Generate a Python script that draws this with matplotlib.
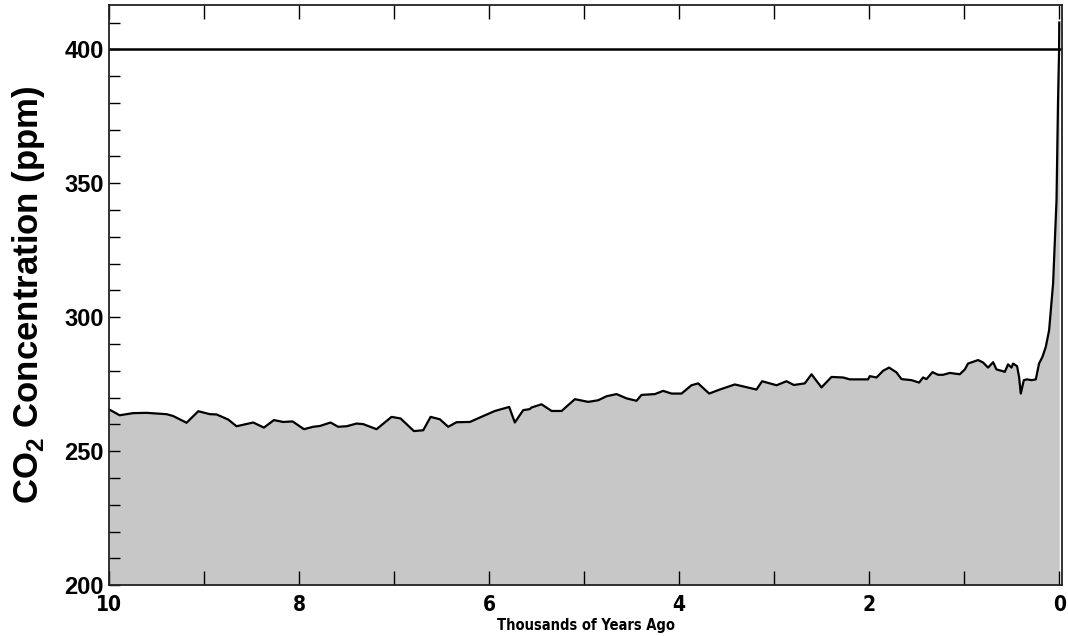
import matplotlib as mpl
mpl.use("Agg")
import matplotlib.pyplot as plt
from matplotlib import font_manager
from matplotlib.ticker import MultipleLocator

# thousands of years ago, CO2 ppm
kyr = [10.0, 9.887, 9.745, 9.603, 9.393, 9.323, 9.183, 9.060, 8.937, 8.867,
       8.745, 8.657, 8.482, 8.369, 8.264, 8.166, 8.067, 7.948, 7.851, 7.780,
       7.668, 7.588, 7.499, 7.394, 7.325, 7.184, 7.026, 6.931, 6.791, 6.693,
       6.615, 6.518, 6.430, 6.342, 6.202, 6.062, 5.939, 5.788, 5.729, 5.641,
       5.571, 5.553, 5.448, 5.342, 5.237, 5.097, 4.957, 4.852, 4.764, 4.659,
       4.553, 4.448, 4.396, 4.256, 4.168, 4.080, 3.975, 3.870, 3.800, 3.684,
       3.572, 3.414, 3.186, 3.127, 2.975, 2.870, 2.793, 2.678, 2.607, 2.502,
       2.397, 2.275, 2.204, 2.012, 1.994, 1.923, 1.854, 1.791, 1.713, 1.660,
       1.555, 1.475, 1.433, 1.397, 1.334, 1.275, 1.223, 1.152, 1.047, 0.994,
       0.960, 0.854, 0.802, 0.749, 0.696, 0.661, 0.608, 0.573, 0.539, 0.503,
       0.486, 0.444, 0.423, 0.405, 0.373, 0.339, 0.292, 0.247, 0.213, 0.177,
       0.142, 0.107, 0.065, 0.029, 0.013, 0.002, 0.0]
co2 = [265.6, 263.4, 264.2, 264.3, 263.8, 263.1, 260.6, 264.9, 263.8, 263.7,
       261.8, 259.3, 260.7, 258.8, 261.6, 260.9, 261.1, 258.2, 259.1, 259.4,
       260.7, 259.1, 259.3, 260.3, 260.1, 258.2, 262.8, 262.2, 257.5, 257.8,
       262.8, 261.9, 259.1, 260.8, 260.9, 263.1, 265.0, 266.5, 260.7, 265.3,
       265.7, 266.3, 267.5, 265.0, 265.0, 269.4, 268.4, 269.0, 270.5, 271.3,
       269.7, 268.8, 271.0, 271.3, 272.5, 271.5, 271.5, 274.6, 275.3, 271.5,
       273.0, 274.9, 273.0, 276.1, 274.6, 276.1, 274.7, 275.3, 278.7, 273.8,
       277.7, 277.5, 276.8, 276.8, 278.0, 277.5, 280.0, 281.2, 279.4, 276.9,
       276.5, 275.6, 277.5, 276.9, 279.5, 278.5, 278.5, 279.2, 278.7, 280.5,
       282.7, 284.0, 283.1, 281.2, 283.2, 280.5, 280.0, 279.6, 282.4, 281.2,
       282.7, 281.7, 277.7, 271.5, 276.5, 276.8, 276.5, 276.8, 282.7, 285.2,
       288.9, 295.1, 312.6, 343.7, 381.0, 399.6, 410.0]

ref_level = 400
yticks = [200, 250, 300, 350, 400]
xticks = [10, 8, 6, 4, 2, 0]

plt.rcParams['font.family'] = ['Liberation Sans', 'DejaVu Sans']
plt.rcParams['mathtext.fontset'] = 'custom'
plt.rcParams['mathtext.bf'] = 'Liberation Sans:bold'
plt.rcParams['mathtext.rm'] = 'Liberation Sans:bold'

# look for a narrow / condensed bold face for the x axis texts
narrow = None
for f in font_manager.fontManager.ttflist:
    nm = (f.name + ' ' + f.fname).lower()
    if ('narrow' in nm or 'condensed' in nm) and f.weight in (700, 'bold'):
        narrow = f.fname
        break

fig = plt.figure(figsize=(10.68, 6.36), dpi=100)
ax = fig.add_axes([0.102, 0.080, 0.8925, 0.912])

ax.fill_between(kyr, 200, co2, color='#c7c7c7', lw=0)
ax.plot(kyr, co2, color='black', lw=1.6)
ax.axhline(ref_level, color='black', lw=1.8)

ax.set_xlim(10, -0.03)
ax.set_ylim(200, 416.5)

ax.set_yticks(yticks)
ax.yaxis.set_minor_locator(MultipleLocator(10))
ax.set_xticks(xticks)
ax.xaxis.set_minor_locator(MultipleLocator(1))

ax.tick_params(axis='y', which='both', direction='in', length=8, width=1,
               left=True, right=False)
ax.tick_params(axis='x', which='both', direction='in', length=10, width=1,
               top=True, bottom=True, pad=7)
for lab in ax.get_yticklabels():
    lab.set_fontproperties(font_manager.FontProperties(
        family='Liberation Sans', weight='bold', stretch='normal', size=17))
for lab in ax.get_xticklabels():
    if narrow is not None:
        lab.set_fontproperties(font_manager.FontProperties(fname=narrow, size=15))
    else:
        lab.set_fontproperties(font_manager.FontProperties(
            family='Liberation Sans', weight='bold', size=13))

for sp in ax.spines.values():
    sp.set_linewidth(1.3)
    sp.set_color('#222222')

if narrow is not None:
    ax.set_xlabel('Thousands of Years Ago', labelpad=2,
                  fontproperties=font_manager.FontProperties(fname=narrow, size=10.5))
else:
    ax.set_xlabel('Thousands of Years Ago', fontsize=10, fontweight='bold',
                  labelpad=2)
ax.set_ylabel(r'CO$_\mathbf{2}$ Concentration (ppm)', labelpad=13,
              fontproperties=font_manager.FontProperties(
                  family='Liberation Sans', weight='bold', stretch='normal',
                  size=25))

fig.savefig('out.png', dpi=100)
